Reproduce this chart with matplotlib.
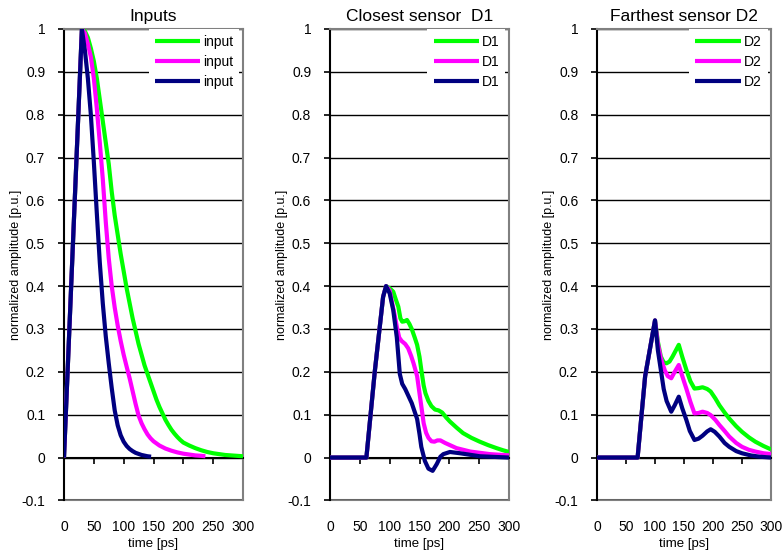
import matplotlib
matplotlib.use("Agg")
import matplotlib.pyplot as plt
from matplotlib.ticker import FixedLocator, NullFormatter

plt.rcParams['font.family'] = ['Liberation Sans', 'DejaVu Sans']

# ---------------- data ----------------
panel_titles = ["Inputs", "Closest sensor  D1", "Farthest sensor D2"]
series_labels = [["input", "input", "input"], ["D1", "D1", "D1"], ["D2", "D2", "D2"]]
series_colors = ["#00ff00", "#ff00ff", "#000080"]

x_ticks = [0, 50, 100, 150, 200, 250, 300]
y_ticks = [-0.1, 0, 0.1, 0.2, 0.3, 0.4, 0.5, 0.6, 0.7, 0.8, 0.9, 1.0]
y_tick_labels = ["-0.1", "0", "0.1", "0.2", "0.3", "0.4", "0.5", "0.6", "0.7", "0.8", "0.9", "1"]

# Inputs
in_green_t = [0, 30, 35, 40, 45, 50, 55, 60, 65, 70, 75, 80, 85, 90, 95, 100, 105, 110, 115,
              120, 125, 130, 135, 140, 145, 150, 155, 160, 165, 170, 175, 180, 185, 190, 195,
              200, 210, 220, 230, 240, 250, 260, 270, 280, 290, 300]
in_green_v = [0, 1.0, 0.995, 0.98, 0.955, 0.925, 0.885, 0.835, 0.785, 0.735, 0.685, 0.62, 0.565,
              0.52, 0.475, 0.435, 0.395, 0.36, 0.325, 0.295, 0.265, 0.24, 0.215, 0.195, 0.175,
              0.155, 0.135, 0.118, 0.103, 0.088, 0.076, 0.065, 0.056, 0.048, 0.041, 0.035, 0.028,
              0.022, 0.017, 0.013, 0.010, 0.008, 0.006, 0.005, 0.004, 0.003]
in_magenta_t = [0, 30, 35, 40, 45, 50, 55, 60, 65, 70, 75, 80, 85, 90, 95, 100, 105, 110, 115,
                120, 125, 130, 135, 140, 145, 150, 160, 170, 180, 190, 200, 210, 220, 230, 237]
in_magenta_v = [0, 1.0, 0.99, 0.965, 0.935, 0.885, 0.815, 0.735, 0.65, 0.55, 0.465, 0.40, 0.35,
                0.308, 0.272, 0.24, 0.212, 0.185, 0.155, 0.125, 0.098, 0.08, 0.066, 0.054, 0.045,
                0.038, 0.028, 0.021, 0.016, 0.012, 0.009, 0.007, 0.005, 0.004, 0.003]
in_navy_t = [0, 30, 35, 40, 45, 50, 55, 60, 65, 70, 75, 80, 85, 90, 95, 100, 105, 110, 115, 120,
             130, 140, 146]
in_navy_v = [0, 1.0, 0.95, 0.885, 0.8, 0.69, 0.57, 0.455, 0.36, 0.283, 0.22, 0.162, 0.11, 0.075,
             0.052, 0.037, 0.027, 0.02, 0.015, 0.011, 0.006, 0.003, 0.002]

# Closest sensor D1
d1_green_t = [0, 61, 68, 75, 83, 89, 94, 100, 106, 110, 114.5, 118, 121, 125, 129, 133, 137, 142,
              146, 150, 153, 157, 160, 165, 170, 176, 182, 188, 195, 201, 212, 223, 237, 251, 265,
              279, 290, 300]
d1_green_v = [0, 0, 0.1, 0.2, 0.3, 0.375, 0.40, 0.395, 0.387, 0.37, 0.352, 0.325, 0.317, 0.318,
              0.321, 0.312, 0.30, 0.28, 0.263, 0.235, 0.205, 0.168, 0.15, 0.132, 0.12, 0.112, 0.11,
              0.105, 0.093, 0.084, 0.07, 0.057, 0.046, 0.037, 0.029, 0.022, 0.017, 0.013]
d1_magenta_t = [0, 61, 68, 75, 83, 89, 94, 100, 103, 108, 112, 116, 120, 126, 131, 136, 140, 146,
                150, 153, 157, 161, 165, 170, 175, 180, 185, 193, 212, 235, 268, 300]
d1_magenta_v = [0, 0, 0.1, 0.2, 0.3, 0.375, 0.40, 0.39, 0.368, 0.335, 0.305, 0.28, 0.272, 0.265,
                0.255, 0.237, 0.22, 0.19, 0.15, 0.12, 0.08, 0.058, 0.046, 0.038, 0.037, 0.04, 0.04,
                0.034, 0.022, 0.014, 0.008, 0.005]
d1_navy_t = [0, 61, 68, 75, 83, 89, 94, 100, 106, 112, 117, 121, 126, 137, 146, 150, 153, 159, 165,
             172, 179, 185, 190, 201, 218, 251, 300]
d1_navy_v = [0, 0, 0.1, 0.2, 0.3, 0.375, 0.40, 0.383, 0.344, 0.28, 0.195, 0.172, 0.16, 0.127,
             0.09, 0.055, 0.025, -0.008, -0.026, -0.031, -0.015, 0.002, 0.008, 0.013, 0.01, 0.003,
             0.0]

# Farthest sensor D2
d2_green_t = [0, 70, 83, 100, 105, 110, 115, 120, 125, 130, 141, 147, 154, 161, 168, 175, 182,
              190, 196, 204, 211, 220, 228, 240, 250, 262, 273, 287, 300]
d2_green_v = [0, 0, 0.19, 0.32, 0.27, 0.236, 0.222, 0.22, 0.224, 0.235, 0.263, 0.235, 0.205,
              0.178, 0.161, 0.162, 0.164, 0.16, 0.154, 0.138, 0.122, 0.105, 0.091, 0.073, 0.06,
              0.047, 0.037, 0.027, 0.019]
d2_magenta_t = [0, 70, 83, 100, 105, 110, 117, 122, 128, 134, 141, 147, 154, 161, 168, 175, 182,
                190, 196, 204, 211, 220, 228, 240, 250, 262, 273, 287, 300]
d2_magenta_v = [0, 0, 0.19, 0.32, 0.265, 0.232, 0.203, 0.19, 0.185, 0.2, 0.216, 0.19, 0.161,
                0.13, 0.103, 0.104, 0.107, 0.104, 0.099, 0.088, 0.076, 0.062, 0.049, 0.034, 0.025,
                0.018, 0.014, 0.01, 0.008]
d2_navy_t = [0, 70, 83, 100, 105, 111, 115, 120, 128, 134, 141, 147, 154, 160, 168, 175, 182, 190,
             196, 203, 211, 220, 228, 240, 250, 265, 280, 300]
d2_navy_v = [0, 0, 0.19, 0.32, 0.25, 0.196, 0.16, 0.132, 0.107, 0.122, 0.142, 0.115, 0.088, 0.062,
             0.041, 0.044, 0.051, 0.061, 0.066, 0.06, 0.049, 0.034, 0.025, 0.015, 0.01, 0.005,
             0.002, 0.0]

panel_series = [
    [(in_green_t, in_green_v), (in_magenta_t, in_magenta_v), (in_navy_t, in_navy_v)],
    [(d1_green_t, d1_green_v), (d1_magenta_t, d1_magenta_v), (d1_navy_t, d1_navy_v)],
    [(d2_green_t, d2_green_v), (d2_magenta_t, d2_magenta_v), (d2_navy_t, d2_navy_v)],
]

# ---------------- figure ----------------
W, H = 784, 553
fig = plt.figure(figsize=(W / 100, H / 100), dpi=100)

axes_px = [(64, 179), (330, 179), (597, 174)]  # left edge and width in pixels
top_px, bottom_px = 29, 500.4

for i, (left, width) in enumerate(axes_px):
    ax = fig.add_axes([left / W, 1 - bottom_px / H, width / W, (bottom_px - top_px) / H])
    ax.set_xlim(0, 300)
    ax.set_ylim(-0.1, 1.0)

    for (t, v), color, lab in zip(panel_series[i], series_colors, series_labels[i]):
        ax.plot(t, v, color=color, lw=3.0, label=lab, solid_joinstyle='round',
                solid_capstyle='butt', zorder=3)

    # horizontal grid lines
    ax.yaxis.set_major_locator(FixedLocator(y_ticks))
    ax.set_yticklabels(y_tick_labels)
    ax.grid(axis='y', color='black', lw=1.0, zorder=1)
    ax.set_axisbelow(True)

    # frame: black value axis, grey border elsewhere
    for side in ('top', 'right'):
        ax.spines[side].set_color('#808080')
        ax.spines[side].set_linewidth(1.5)
    ax.spines['left'].set_color('black')
    ax.spines['left'].set_linewidth(1.5)
    ax.spines['bottom'].set_position(('data', 0))
    ax.spines['bottom'].set_color('black')
    ax.spines['bottom'].set_linewidth(1.5)
    ax.spines['bottom'].set_zorder(2.5)

    ax.xaxis.set_major_locator(FixedLocator(x_ticks))
    ax.xaxis.set_major_formatter(NullFormatter())
    ax.tick_params(axis='x', direction='out', length=4, width=1.2, color='black')
    ax.tick_params(axis='y', direction='out', length=4, width=1.2, color='black',
                   labelsize=10, pad=9.5)

    # time labels along the lower border
    sec = ax.secondary_xaxis('bottom')
    sec.set_xticks(x_ticks)
    sec.set_xticklabels([str(x) for x in x_ticks])
    sec.tick_params(axis='x', length=0, labelsize=10, pad=14)
    sec.spines['bottom'].set_color('#808080')
    sec.spines['bottom'].set_linewidth(1.5)
    sec.set_xlabel("time [ps]", fontsize=9.5, labelpad=3)

    ax.set_title(panel_titles[i], fontsize=12.5, pad=6)
    ax.set_ylabel("normalized amplitude [p.u.]", fontsize=9)
    ax.yaxis.set_label_coords(-42 / width, 0.5)

    leg = ax.legend(loc='upper right', bbox_to_anchor=(0.98, 1.0), fontsize=10,
                    handlelength=3.25, handletextpad=0.2, labelspacing=0.41,
                    borderpad=0.45, borderaxespad=0.0, frameon=True, fancybox=False)
    leg.get_frame().set_facecolor('white')
    leg.get_frame().set_edgecolor('none')
    leg.get_frame().set_alpha(1.0)

fig.savefig("out.png", dpi=100)
